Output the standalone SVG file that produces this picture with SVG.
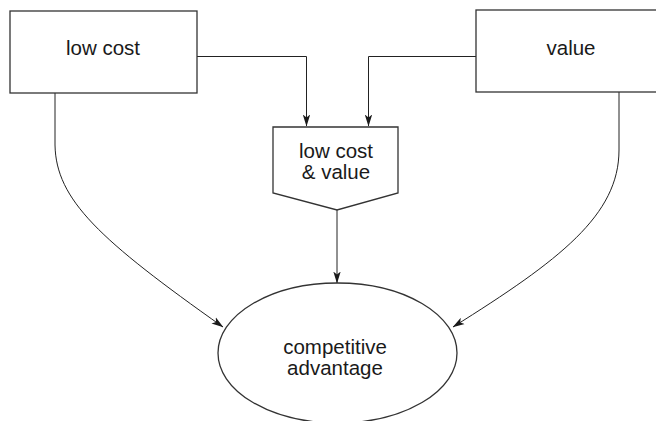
<svg xmlns="http://www.w3.org/2000/svg" width="656" height="421" viewBox="0 0 656 421">
  <defs>
    <marker id="arrow" viewBox="0 0 12 8" refX="11.5" refY="4" markerWidth="12" markerHeight="8" markerUnits="userSpaceOnUse" orient="auto">
      <path d="M0,0.3 L12,4 L0,7.7 L3,4 Z" fill="#1a1a1a"/>
    </marker>
  </defs>
  <style>
    .shape { fill: #ffffff; stroke: #333333; stroke-width: 1.3; }
    .link { fill: none; stroke: #222222; stroke-width: 1; marker-end: url(#arrow); }
    .label { font-family: "Liberation Sans", Arial, sans-serif; font-size: 20.5px; fill: #1a1a1a; text-anchor: middle; }
  </style>
  <rect width="656" height="421" fill="#ffffff"/>

  <g id="connectors">
    <path class="link" d="M197,56.5 H306.5 V126"/>
    <path class="link" d="M476,56.5 H368.5 V126"/>
    <path class="link" d="M337,210 V283"/>
    <path class="link" d="M55,93 V145 C56,200 100,240 223,327"/>
    <path class="link" d="M619,92 V150 C619,215 560,260 453,327"/>
  </g>

  <g id="low-cost">
    <rect class="shape" x="10" y="11" width="187" height="82"/>
    <text class="label" x="103" y="55">low cost</text>
  </g>

  <g id="value">
    <rect class="shape" x="476" y="10" width="190" height="82"/>
    <text class="label" x="571" y="55">value</text>
  </g>

  <g id="low-cost-and-value">
    <path class="shape" d="M273,127 H398 V193 L337,210 L273,193 Z"/>
    <text class="label" x="336" y="157.5">low cost</text>
    <text class="label" x="336" y="178.5">&amp; value</text>
  </g>

  <g id="competitive-advantage">
    <ellipse class="shape" cx="337.5" cy="353" rx="119.5" ry="70"/>
    <text class="label" x="335" y="353.5">competitive</text>
    <text class="label" x="335" y="374.5">advantage</text>
  </g>
</svg>
